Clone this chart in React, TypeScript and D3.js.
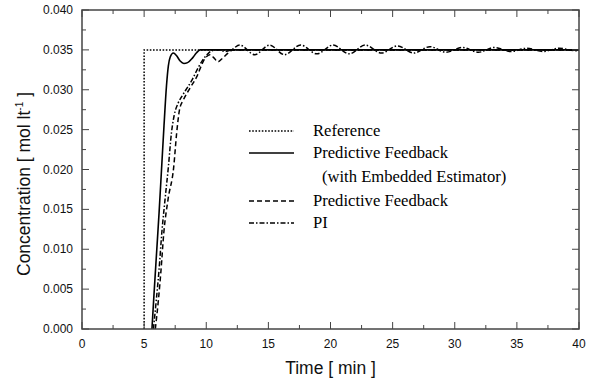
import React from "react";
import * as d3 from "d3";

const W = 591;
const H = 385;
const M = { left: 82, top: 10, right: 579, bottom: 329 };

const xTicks = [0, 5, 10, 15, 20, 25, 30, 35, 40];
const yTicks = [0, 0.005, 0.01, 0.015, 0.02, 0.025, 0.03, 0.035, 0.04];

const refT = [5, 5, 40];
const refC = [0, 0.035, 0.035];

const pfeT = [5.63, 5.8, 6.0, 6.2, 6.4, 6.6, 6.8, 6.95, 7.1, 7.35, 7.6, 7.9, 8.2, 8.5, 8.9, 9.2, 9.5, 12, 40];
const pfeC = [0, 0.0045, 0.0095, 0.0145, 0.02, 0.0255, 0.0305, 0.033, 0.0341, 0.0346, 0.0343, 0.0336, 0.0333, 0.0334, 0.034, 0.0346, 0.035, 0.035, 0.035];

const pfT = [5.9, 6.15, 6.36, 6.58, 6.92, 7.38, 7.62, 7.85, 8.15, 8.69, 9.26, 9.74, 10.06, 10.3, 10.62, 10.94, 11.34, 11.75, 12.15, 14, 40];
const pfC = [0, 0.00364, 0.0074, 0.012, 0.0162, 0.0203, 0.0246, 0.0275, 0.0287, 0.0302, 0.0317, 0.0335, 0.0342, 0.0344, 0.034, 0.0335, 0.034, 0.0346, 0.035, 0.035, 0.035];

const piT = [5.75, 5.98, 6.2, 6.42, 6.68, 6.95, 7.2, 7.42, 7.73, 8.05, 8.45, 8.85, 9.26, 9.66, 10.06, 10.46, 11.0, 11.5, 12.0, 12.7, 13.9, 15.1, 16.3, 17.6, 18.9, 20.2, 21.5, 22.8, 24.1, 25.4, 26.7, 28.0, 29.3, 30.6, 31.9, 33.2, 34.5, 35.8, 37.1, 38.4, 39.7, 40];
const piC = [0, 0.00364, 0.0074, 0.012, 0.0162, 0.0203, 0.0246, 0.0268, 0.0283, 0.0292, 0.0302, 0.0312, 0.0325, 0.0336, 0.0344, 0.0349, 0.035, 0.0348, 0.035, 0.0356, 0.0344, 0.0356, 0.0344, 0.0356, 0.0345, 0.0356, 0.0345, 0.0356, 0.0346, 0.0355, 0.0346, 0.0354, 0.0347, 0.0353, 0.0347, 0.0353, 0.0348, 0.0352, 0.0348, 0.0352, 0.0349, 0.0349];

const legendLabels = ["Reference", "Predictive Feedback", "(with Embedded Estimator)", "Predictive Feedback", "PI"];

export default function App() {
  const x = d3.scaleLinear().domain([0, 40]).range([M.left, M.right]);
  const y = d3.scaleLinear().domain([0, 0.04]).range([M.bottom, M.top]);

  const mk = (ts: number[], cs: number[], curve: d3.CurveFactory) =>
    d3
      .line<number>()
      .x((_, i) => x(ts[i]))
      .y((c) => y(c))
      .curve(curve)(cs) || "";

  const refPath = mk(refT, refC, d3.curveLinear);
  const pfePath = mk(pfeT, pfeC, d3.curveMonotoneX);
  const pfPath = mk(pfT, pfC, d3.curveMonotoneX);
  const piPath = mk(piT, piC, d3.curveMonotoneX);

  const xMinor = d3.range(0, 40.01, 2.5);
  const yMinor = d3.range(0, 0.04001, 0.0025);
  const axisColor = "#444";
  const sans = "'Liberation Sans', Arial, sans-serif";
  const serif = "'Liberation Serif', 'Times New Roman', serif";

  const lx1 = 249;
  const lx2 = 294;
  const ltx = 313;
  const legendRows = [
    { y: 131, dash: "1.6,1.6", label: legendLabels[0], indent: 0, line: true },
    { y: 153, dash: "", label: legendLabels[1], indent: 0, line: true },
    { y: 177, dash: "", label: legendLabels[2], indent: 9, line: false },
    { y: 201, dash: "5,3", label: legendLabels[3], indent: 0, line: true },
    { y: 223, dash: "5,2,1.5,2", label: legendLabels[4], indent: 0, line: true },
  ];

  return (
    <svg width={W} height={H} style={{ position: "absolute", left: 0, top: 0, background: "#fff" }}>
      <defs>
        <clipPath id="plot">
          <rect x={M.left} y={M.top} width={M.right - M.left} height={M.bottom - M.top} />
        </clipPath>
      </defs>
      <g clipPath="url(#plot)" fill="none" stroke="#000" strokeWidth={1.5}>
        <path d={refPath} strokeDasharray="1.6,1.6" />
        <path d={piPath} strokeDasharray="5,2,1.5,2" />
        <path d={pfPath} strokeDasharray="5,3" />
        <path d={pfePath} strokeWidth={1.6} />
      </g>
      <g stroke={axisColor} strokeWidth={1}>
        {xMinor.map((t) => (
          <g key={"xm" + t}>
            <line x1={x(t)} x2={x(t)} y1={M.bottom} y2={M.bottom - (t % 5 === 0 ? 7 : 4)} />
            <line x1={x(t)} x2={x(t)} y1={M.top} y2={M.top + (t % 5 === 0 ? 7 : 4)} />
          </g>
        ))}
        {yMinor.map((v, i) => (
          <g key={"ym" + i}>
            <line x1={M.left} x2={M.left + (i % 2 === 0 ? 7 : 4)} y1={y(v)} y2={y(v)} />
            <line x1={M.right} x2={M.right - (i % 2 === 0 ? 7 : 4)} y1={y(v)} y2={y(v)} />
          </g>
        ))}
      </g>
      <rect x={M.left} y={M.top} width={M.right - M.left} height={M.bottom - M.top} fill="none" stroke={axisColor} strokeWidth={1.5} />
      <g fontFamily={sans} fontSize={12} fill="#111">
        {xTicks.map((t) => (
          <text key={"xt" + t} x={x(t)} y={M.bottom + 19} textAnchor="middle">
            {t}
          </text>
        ))}
        {yTicks.map((v) => (
          <text key={"yt" + v} x={M.left - 9} y={y(v) + 4} textAnchor="end">
            {d3.format(".3f")(v)}
          </text>
        ))}
      </g>
      <text x={(M.left + M.right) / 2} y={374} textAnchor="middle" fontFamily={sans} fontSize={17.5} fill="#111">
        Time [ min ]
      </text>
      <text transform={`translate(30,184) rotate(-90)`} textAnchor="middle" fontFamily={sans} fontSize={17.5} fill="#111">
        Concentration [ mol lt
        <tspan fontSize={10} dy={-7}>-1</tspan>
        <tspan dy={7}> ]</tspan>
      </text>
      <g>
        {legendRows.map((r, i) => (
          <g key={"lg" + i}>
            {r.line && (
              <line x1={lx1} x2={lx2} y1={r.y} y2={r.y} stroke="#000" strokeWidth={1.5} strokeDasharray={r.dash || undefined} />
            )}
            <text x={ltx + r.indent} y={r.y + 5} fontFamily={serif} fontSize={16.6} fill="#000">
              {r.label}
            </text>
          </g>
        ))}
      </g>
    </svg>
  );
}
